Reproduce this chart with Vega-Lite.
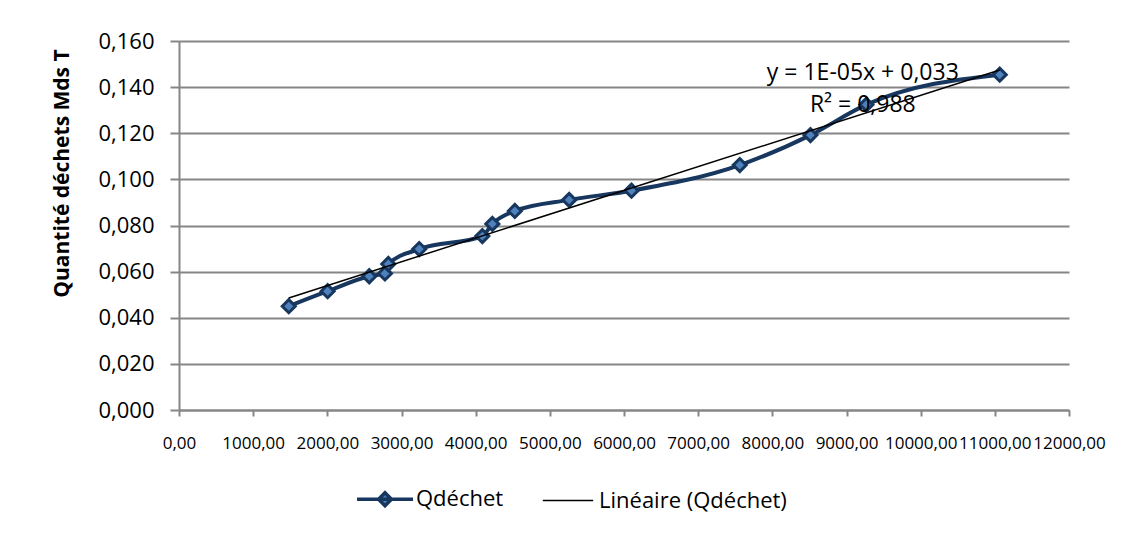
{
  "$schema": "https://vega.github.io/schema/vega-lite/v6.json",
  "width": 890,
  "height": 369,
  "autosize": "none",
  "padding": {"left": 179, "top": 41, "right": 60, "bottom": 133},
  "background": "white",
  "config": {
    "locale": {"number": {"decimal": ",", "thousands": " ", "grouping": [3], "currency": ["", ""]}},
    "view": {"stroke": null},
    "font": "Open Sans"
  },
  "datasets": {
    "pts": [
      {"x": 1480, "q": 0.0450},
      {"x": 2004, "q": 0.0515},
      {"x": 2565, "q": 0.0580},
      {"x": 2777, "q": 0.0592},
      {"x": 2822, "q": 0.0633},
      {"x": 3239, "q": 0.0698},
      {"x": 4090, "q": 0.0754},
      {"x": 4225, "q": 0.0807},
      {"x": 4528, "q": 0.0863},
      {"x": 5261, "q": 0.0911},
      {"x": 6101, "q": 0.0951},
      {"x": 7561, "q": 0.1062},
      {"x": 8514, "q": 0.1192},
      {"x": 9268, "q": 0.1324},
      {"x": 11066, "q": 0.1454}
    ],
    "eq": [
      {"x": 9220, "q": 0.1462, "label": "y = 1E-05x + 0,033"},
      {"x": 9220, "q": 0.1324, "label": "R² = 0,988"}
    ]
  },
  "encoding": {
    "x": {
      "field": "x", "type": "quantitative",
      "scale": {"domain": [0, 12000], "nice": false, "zero": false},
      "axis": {
        "title": null,
        "values": [0,1000,2000,3000,4000,5000,6000,7000,8000,9000,10000,11000,12000],
        "format": ".2f",
        "grid": false,
        "domainColor": "#868686", "domainWidth": 2,
        "tickColor": "#868686", "tickWidth": 2, "tickSize": 6,
        "labelFontSize": 17, "labelColor": "#000000", "labelPadding": 19,
        "labelFont": "Open Sans", "labelFlush": false, "labelOverlap": false
      }
    },
    "y": {
      "field": "q", "type": "quantitative",
      "scale": {"domain": [0, 0.16], "nice": false},
      "axis": {
        "title": "Quantité déchets Mds T",
        "titleFontSize": 21, "titleFontWeight": "bold", "titleColor": "#000000", "titleFont": "Open Sans",
        "titleX": -117, "titleY": 132, "titleBaseline": "middle", "titleAngle": -90,
        "values": [0, 0.02, 0.04, 0.06, 0.08, 0.1, 0.12, 0.14, 0.16],
        "format": ".3f",
        "grid": true, "gridColor": "#868686", "gridWidth": 2,
        "domainColor": "#868686", "domainWidth": 2,
        "tickColor": "#868686", "tickWidth": 2, "tickSize": 9,
        "labelFontSize": 22, "labelColor": "#000000", "labelPadding": 16, "labelFont": "Open Sans"
      }
    }
  },
  "layer": [
    {
      "data": {"name": "pts"},
      "mark": {"type": "line", "interpolate": "monotone", "strokeWidth": 4},
      "encoding": {
        "color": {
          "datum": "Qdéchet",
          "scale": {"domain": ["Qdéchet", "Linéaire (Qdéchet)"], "range": ["#17375E", "#000000"]},
          "legend": {
            "title": null,
            "orient": "none",
            "direction": "horizontal",
            "legendX": 195,
            "legendY": 447,
            "labelFontSize": 22,
            "labelFont": "Open Sans",
            "labelColor": "#000000",
            "labelLimit": 400,
            "labelOffset": 20,
            "columnPadding": 35,
            "symbolSize": 3136,
            "symbolStrokeWidth": 3,
            "symbolType": "M-1,0H1",
            "encode": {
              "symbols": {
                "update": {
                  "shape": {"signal": "datum.value === 'Qdéchet' ? 'M-1,0H1M-0.23,0L0,-0.23L0.23,0L0,0.23Z' : 'M-0.9,0H0.9'"},
                  "fill": {"signal": "datum.value === 'Qdéchet' ? '#4F81BD' : 'transparent'"},
                  "strokeWidth": {"signal": "datum.value === 'Qdéchet' ? 3.5 : 1.5"}
                }
              }
            }
          }
        }
      }
    },
    {
      "data": {"name": "pts"},
      "mark": {"type": "point", "shape": "diamond", "filled": true, "fill": "#4F81BD", "stroke": "#17375E", "strokeWidth": 3, "size": 170, "opacity": 1}
    },
    {
      "data": {"name": "pts"},
      "transform": [{"regression": "q", "on": "x", "method": "linear"}],
      "mark": {"type": "line", "strokeWidth": 1.5},
      "encoding": {"color": {"datum": "Linéaire (Qdéchet)"}}
    },
    {
      "data": {"name": "eq"},
      "mark": {"type": "text", "fontSize": 23, "font": "Open Sans", "color": "#000000", "align": "center", "baseline": "middle"},
      "encoding": {"text": {"field": "label"}}
    }
  ]
}
